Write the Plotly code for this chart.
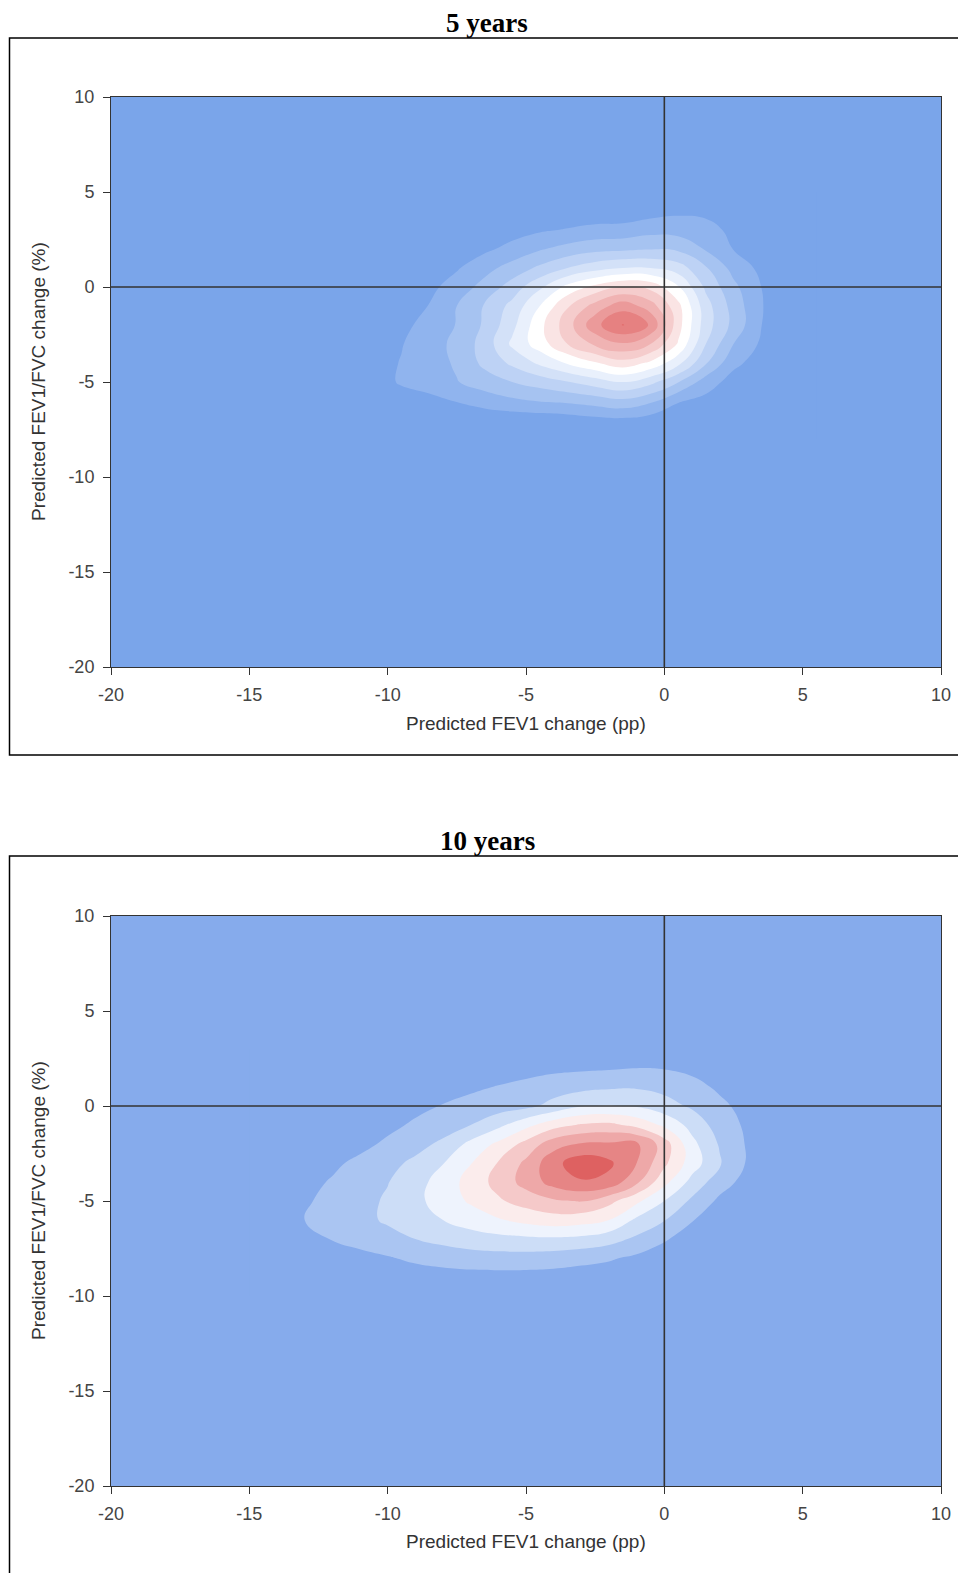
import plotly.graph_objects as go

# ---------------- axis ticks ----------------
tick_vals = [-20, -15, -10, -5, 0, 5, 10]
tick_labels = ["-20", "-15", "-10", "-5", "0", "5", "10"]

panel_titles = ["5 years", "10 years"]
x_title = "Predicted FEV1 change (pp)"
y_title = "Predicted FEV1/FVC change (%)"

# ---------------- 5 years: estimated density grid ----------------
x5 = [-11.5, -10.5, -9.5, -8.5, -7.5, -6.5, -5.5, -4.5, -3.5, -2.5, -1.5, -0.5, 0.5, 1.5, 2.5, 3.5, 4.5, 5.5]
y5 = [5, 4, 3, 2, 1, 0, -1, -2, -3, -4, -5, -6, -7, -8]
z5 = [
    [0.01, 0.02, 0.03, 0.04, 0.05, 0.07, 0.09, 0.1, 0.12, 0.13, 0.15, 0.2, 0.25, 0.25, 0.18, 0.1, 0.05, 0.02],
    [0.03, 0.05, 0.06, 0.09, 0.12, 0.17, 0.22, 0.3, 0.3, 0.3, 0.35, 0.57, 0.8, 0.73, 0.45, 0.22, 0.09, 0.06],
    [0.05, 0.07, 0.1, 0.17, 0.25, 0.4, 0.6, 0.87, 1.07, 1.3, 1.35, 1.65, 1.6, 1.4, 0.73, 0.3, 0.16, 0.08],
    [0.06, 0.1, 0.18, 0.31, 0.48, 0.8, 1.3, 1.9, 2.35, 2.7, 2.8, 2.95, 2.8, 1.9, 0.97, 0.5, 0.24, 0.11],
    [0.08, 0.15, 0.25, 0.48, 0.9, 1.65, 2.4, 3.2, 4.0, 4.6, 5.0, 5.0, 4.5, 3.1, 1.66, 0.75, 0.35, 0.15],
    [0.12, 0.23, 0.4, 0.75, 1.43, 2.35, 3.43, 4.8, 6.3, 7.3, 8.0, 7.7, 6.1, 3.8, 2.25, 1.0, 0.43, 0.18],
    [0.19, 0.31, 0.58, 1.03, 2.0, 3.08, 4.3, 6.0, 7.9, 9.4, 10.6, 9.5, 7.3, 4.4, 2.6, 1.05, 0.42, 0.18],
    [0.22, 0.43, 0.75, 1.33, 2.05, 3.15, 4.7, 6.7, 8.55, 10.7, 12.05, 10.9, 7.4, 4.45, 2.7, 1.02, 0.42, 0.18],
    [0.3, 0.55, 0.95, 1.55, 2.26, 3.4, 5.2, 6.5, 8.0, 9.2, 9.9, 9.0, 6.9, 4.0, 2.0, 0.85, 0.37, 0.14],
    [0.37, 0.62, 1.05, 1.5, 2.15, 3.25, 4.2, 5.2, 6.1, 6.9, 7.6, 6.8, 5.3, 3.1, 1.25, 0.55, 0.24, 0.1],
    [0.41, 0.6, 1.1, 1.45, 1.95, 2.5, 3.0, 3.45, 3.95, 4.5, 5.0, 4.3, 3.05, 1.5, 0.6, 0.33, 0.14, 0.07],
    [0.3, 0.45, 0.58, 0.7, 1.05, 1.45, 1.8, 2.05, 2.2, 2.45, 2.75, 2.2, 1.08, 0.7, 0.38, 0.2, 0.09, 0.04],
    [0.15, 0.2, 0.2, 0.2, 0.25, 0.3, 0.35, 0.4, 0.5, 0.7, 0.8, 0.55, 0.3, 0.2, 0.12, 0.07, 0.03, 0.01],
    [0.05, 0.07, 0.08, 0.08, 0.09, 0.1, 0.12, 0.14, 0.17, 0.22, 0.25, 0.18, 0.1, 0.06, 0.04, 0.02, 0.01, 0.0],
]
levels5 = [1, 12]  # first and last contour level, step 1
colors5 = ["#7AA5EA", "#90B4EE", "#A6C3F1", "#BDD2F5", "#D3E1F8", "#E9F0FC", "#FFFFFF",
           "#FAE4E4", "#F5CCCC", "#F0B3B3", "#EB9A9A", "#E68181", "#E16868"]

# ---------------- 10 years: estimated density grid ----------------
x10 = [-15, -14, -13, -12, -11, -10, -9, -8, -7, -6, -5, -4, -3, -2, -1, 0, 1, 2, 3, 4]
y10 = [3, 2, 1, 0, -1, -2, -3, -4, -5, -6, -7, -8, -9, -10]
z10 = [
    [0.01, 0.02, 0.03, 0.04, 0.06, 0.08, 0.1, 0.12, 0.18, 0.22, 0.28, 0.32, 0.36, 0.42, 0.45, 0.47, 0.42, 0.3, 0.2, 0.11],
    [0.02, 0.03, 0.04, 0.07, 0.1, 0.13, 0.21, 0.29, 0.4, 0.5, 0.61, 0.75, 0.84, 0.9, 0.99, 0.94, 0.78, 0.52, 0.32, 0.2],
    [0.03, 0.05, 0.08, 0.11, 0.18, 0.27, 0.41, 0.55, 0.83, 1.05, 1.29, 1.56, 1.7, 1.85, 1.9, 1.7, 1.29, 0.85, 0.5, 0.28],
    [0.05, 0.08, 0.11, 0.2, 0.3, 0.48, 0.74, 1.05, 1.3, 1.5, 1.75, 2.3, 2.95, 3.05, 2.9, 2.4, 1.85, 1.2, 0.7, 0.38],
    [0.08, 0.11, 0.19, 0.3, 0.47, 0.75, 1.15, 1.5, 2.0, 2.75, 3.7, 4.6, 5.1, 5.25, 4.7, 3.8, 2.65, 1.55, 0.82, 0.44],
    [0.1, 0.18, 0.28, 0.45, 0.72, 1.18, 1.64, 2.22, 3.27, 4.22, 5.33, 6.57, 7.1, 7.15, 7.2, 5.5, 3.29, 1.9, 0.9, 0.45],
    [0.18, 0.3, 0.5, 0.8, 1.24, 1.69, 2.22, 2.96, 3.95, 5.06, 6.21, 7.7, 8.6, 8.2, 7.0, 5.22, 3.5, 2.12, 0.9, 0.45],
    [0.25, 0.42, 0.7, 1.09, 1.52, 1.96, 2.62, 3.43, 4.38, 5.35, 6.37, 7.4, 7.9, 7.7, 6.2, 4.3, 2.67, 1.44, 0.65, 0.3],
    [0.3, 0.5, 0.88, 1.28, 1.68, 2.13, 2.75, 3.43, 4.14, 4.86, 5.42, 5.85, 6.05, 5.3, 4.22, 3.0, 1.81, 0.8, 0.38, 0.18],
    [0.3, 0.5, 1.0, 1.37, 1.74, 2.13, 2.57, 3.0, 3.45, 3.9, 4.3, 4.55, 4.4, 4.0, 2.8, 2.05, 1.05, 0.5, 0.25, 0.12],
    [0.2, 0.35, 0.65, 1.05, 1.35, 1.68, 2.0, 2.3, 2.55, 2.7, 2.8, 2.85, 2.75, 2.4, 1.8, 1.1, 0.55, 0.27, 0.12, 0.06],
    [0.1, 0.18, 0.3, 0.5, 0.7, 0.92, 1.2, 1.4, 1.55, 1.62, 1.6, 1.5, 1.3, 1.12, 0.8, 0.5, 0.25, 0.12, 0.05, 0.02],
    [0.05, 0.08, 0.12, 0.2, 0.3, 0.4, 0.52, 0.6, 0.65, 0.66, 0.65, 0.62, 0.55, 0.45, 0.3, 0.18, 0.1, 0.05, 0.02, 0.01],
    [0.02, 0.03, 0.05, 0.07, 0.1, 0.13, 0.16, 0.18, 0.2, 0.2, 0.2, 0.18, 0.15, 0.12, 0.08, 0.05, 0.03, 0.02, 0.01, 0.0],
]
levels10 = [1, 8]
colors10 = ["#86ABEC", "#AAC5F2", "#CCDDF7", "#EEF3FD", "#FBECEC", "#F5C9C9", "#EEA8A8", "#E68585", "#DE6161"]

W, H = 958, 1573


def px(xp):
    return xp / W


def py(yp):
    return 1 - yp / H


X_DOM = [px(111), px(941)]
Y_DOM1 = [py(667), py(97)]
Y_DOM2 = [py(1486), py(916)]


def stepped_scale(colors):
    # piecewise-constant colorscale: color j occupies a band centred on j/(n-1)
    n = len(colors) - 1
    scale = []
    for j, c in enumerate(colors):
        lo = max(0.0, (j - 0.5) / n)
        hi = min(1.0, (j + 0.5) / n)
        scale.append([lo, c])
        scale.append([hi, c])
    return scale


fig = go.Figure()


def add_panel(xs, ys, zs, levels, colors, xa, ya):
    fig.add_trace(go.Contour(
        x=xs, y=ys[::-1], z=zs[::-1],
        autocontour=False,
        contours=dict(start=levels[0], end=levels[1], size=1, coloring="fill", showlines=False),
        colorscale=stepped_scale(colors),
        line=dict(width=0, smoothing=1.3),
        showscale=False, hoverinfo="skip", showlegend=False,
        xaxis=xa, yaxis=ya,
    ))


add_panel(x5, y5, z5, levels5, colors5, "x", "y")
add_panel(x10, y10, z10, levels10, colors10, "x2", "y2")

tickfont = dict(family="Liberation Sans, Arial, sans-serif", size=18, color="#444")
ax_common = dict(range=[-20, 10], tickvals=tick_vals, ticktext=tick_labels, ticks="outside",
                 ticklen=7, tickwidth=1, tickcolor="#333", showgrid=False, zeroline=False,
                 showline=True, mirror=True, linecolor="#333", linewidth=1,
                 tickfont=tickfont, fixedrange=True, automargin=False)

fig.update_layout(
    template="none",
    width=W, height=H, margin=dict(l=0, r=0, t=0, b=0, pad=0, autoexpand=False),
    paper_bgcolor="white", plot_bgcolor="white",
    xaxis=dict(domain=X_DOM, anchor="y", ticklabelstandoff=4, **ax_common),
    yaxis=dict(domain=Y_DOM1, anchor="x", ticklabelstandoff=5, **ax_common),
    xaxis2=dict(domain=X_DOM, anchor="y2", ticklabelstandoff=4, **ax_common),
    yaxis2=dict(domain=Y_DOM2, anchor="x2", ticklabelstandoff=5, **ax_common),
)

shapes = []
for (xr, yr, bg) in [("x", "y", colors5[0]), ("x2", "y2", colors10[0])]:
    shapes.append(dict(type="rect", xref=xr, yref=yr, x0=-20, x1=10, y0=-20, y1=10,
                       fillcolor=bg, line=dict(width=0), layer="below"))
    shapes.append(dict(type="line", xref=xr, yref=yr, x0=0, x1=0, y0=-20, y1=10,
                       line=dict(color="#333", width=1.6), layer="above"))
    shapes.append(dict(type="line", xref=xr, yref=yr, x0=-20, x1=10, y0=0, y1=0,
                       line=dict(color="#333", width=1.6), layer="above"))
# panel frames (right / bottom edges run off the page as in the original)
shapes.append(dict(type="rect", xref="paper", yref="paper", x0=px(9.5), x1=1.01,
                   y0=py(755), y1=py(38), line=dict(color="black", width=1.5),
                   fillcolor="rgba(0,0,0,0)", layer="below"))
shapes.append(dict(type="rect", xref="paper", yref="paper", x0=px(9.5), x1=1.01,
                   y0=-0.01, y1=py(856), line=dict(color="black", width=1.5),
                   fillcolor="rgba(0,0,0,0)", layer="below"))
fig.update_layout(shapes=shapes)

titlefont = dict(family="Liberation Serif, Times New Roman, serif", size=27, color="black")
labfont = dict(family="Liberation Sans, Arial, sans-serif", size=19, color="#333")
ann = []
for title, ty, xt_y, yt_y in [(panel_titles[0], 23, 723, 382), (panel_titles[1], 841, 1541, 1201)]:
    ann.append(dict(text="<b>%s</b>" % title, xref="paper", yref="paper", x=px(487), y=py(ty),
                    xanchor="center", yanchor="middle", showarrow=False, font=titlefont))
    ann.append(dict(text=x_title, xref="paper", yref="paper", x=px(526), y=py(xt_y),
                    xanchor="center", yanchor="middle", showarrow=False, font=labfont))
    ann.append(dict(text=y_title, xref="paper", yref="paper", x=px(38), y=py(yt_y),
                    xanchor="center", yanchor="middle", showarrow=False, font=labfont, textangle=-90))
fig.update_layout(annotations=ann)

# remove the default 8px page margin so the 958x1573 figure fills the window exactly
fig.write_html("out.html", config={"displayModeBar": False},
               post_script="document.body.style.margin='0px';")
